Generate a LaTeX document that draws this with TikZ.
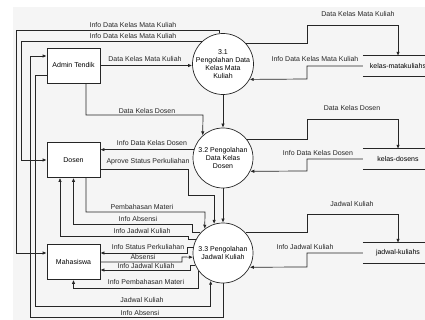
\documentclass[tikz,border=0pt]{standalone}
\usepackage{fontspec}
\setmainfont{Liberation Sans}
\usetikzlibrary{arrows.meta,calc}
\tikzset{
	entity/.style={draw=black!85, fill=white, line width=0.7pt, minimum width=53pt, minimum height=35pt, inner sep=0pt},
	process/.style={circle, draw=black!85, fill=white, line width=0.7pt, minimum size=60pt, inner sep=0pt, align=center},
	store/.style={minimum width=70pt, minimum height=20pt, inner sep=0pt},
	storeline/.style={draw=black!85, line width=0.7pt},
	flow/.style={draw=black!85, line width=0.7pt, -{Latex[length=4pt,width=3.4pt]}},
	lbl/.style={inner sep=0pt, text=black!85},
}

\begin{document}
\begin{tikzpicture}[x=1pt, y=-1pt, font=\fontsize{7}{7.8}\selectfont]
		%%%%% START %%%%%
		\useasboundingbox (0,0) rectangle (425,320);
		\fill[white] (0,0) rectangle (425,320);
		\fill[black!4] (13,7) rectangle (425,320);
		
		% external entities
		\node[entity] (adm) at (73.5,65.5) {Admin Tendik};
		\node[entity] (dsn) at (73.5,160) {Dosen};
		\node[entity] (mhs) at (73.5,262) {Mahasiswa};
		
		% processes
		\node[process] (p31) at (223,64) {3.1\\Pengolahan Data\\Kelas Mata\\Kuliah};
		\node[process] (p32) at (223,158) {3.2 Pengolahan\\Data Kelas\\Dosen};
		\node[process] (p33) at (223,253) {3.3 Pengolahan\\Jadwal Kuliah};
		
		% data stores
		\node[store] (km) at (398,66) {kelas-matakuliahs};
		\node[store] (kd) at (398,159) {kelas-dosens};
		\node[store] (jk) at (398,253) {jadwal-kuliahs};
		\foreach \s in {km,kd,jk}
			\draw[storeline] (\s.north west) -- (\s.north east) (\s.south west) -- (\s.south east);
		
		% 3.1
		\draw[flow] (adm.east) -- (adm.east -| p31.west);
		\node[lbl] (l1) at (145,59) {Data Kelas Mata Kuliah};
		\draw[flow] (p31.96) -- ++(0,-3) -| ($(mhs.west)+(-30,-9)$) -- ($(mhs.west)+(0,-9)$);
		\node[lbl] (l2) at (133,25) {Info Data Kelas Mata Kuliah};
		\draw[flow] (p31.133) -| ($(dsn.west)+(-25,0)$) -- (dsn.west);
		\node[lbl] (l3) at (133,36) {Info Data Kelas Mata Kuliah};
		\draw[flow] (p31.42) -| (307,25) -| (km.north);
		\node[lbl] (l4) at (358,14) {Data Kelas Mata Kuliah};
		\draw[flow] (km.west) -| (307,79) -- (p31.-30);
		\node[lbl] (l5) at (315,59) {Info Data Kelas Mata Kuliah};
		\draw[flow] (p31.south) -- (p32.north);
		
		% 3.2
		\draw[flow] ($(adm.south)+(12.5,0)$) |- (203,115) -- (p32.132);
		\node[lbl] (l6) at (147,111) {Data Kelas Dosen};
		\draw[flow] (p32.164.5) -- (p32.164.5 -| dsn.east);
		\node[lbl] (l7) at (152,143) {Info Data Kelas Dosen};
		\draw[flow] ($(dsn.east)+(0,9)$) -| (188,195) -| (p33.107.5);
		\node[lbl] (l8) at (148,162) {Aprove Status Perkuliahan};
		\draw[flow] (p32.39) -| (307,119) -| (kd.north);
		\node[lbl] (l9) at (352,108) {Data Kelas Dosen};
		\draw[flow] (kd.west) -| (307,171) -- (p32.-26);
		\node[lbl] (l10) at (318,153) {Info Data Kelas Dosen};
		\draw[flow] (p32.south) -- (p33.north);
		
		% 3.3
		\draw[flow] ($(dsn.south)+(12.5,0)$) |- (205,212) -- (p33.127);
		\node[lbl] (l11) at (142,207) {Pembahasan Materi};
		\draw[flow] (p33.138) -| (192,224) -| (dsn.south);
		\node[lbl] (l12) at (138,218.5) {Info Absensi};
		\draw[flow] (p33.154) -| (188,236) -| ($(dsn.south)+(-13.5,0)$);
		\node[lbl] (l13) at (142,231) {Info Jadwal Kuliah};
		\draw[flow] (p33.170) -| (187,253) -- ($(mhs.east)+(0,-9)$);
		\node[lbl] (l14) at (148,247) {Info Status Perkuliahan};
		\draw[flow] (mhs.east) -| (182,257) -- (p33.188);
		\node[lbl] (l15) at (143,257) {Absensi};
		\draw[flow] (p33.203.6) -| (190,270) -- ($(mhs.east)+(0,8)$);
		\node[lbl] (l16) at (146,266) {Info Jadwal Kuliah};
		\draw[flow] (p33.217) |- ($(mhs.south)+(0,8)$) -- (mhs.south);
		\node[lbl] (l17) at (146,282) {Info Pembahasan Materi};
		\draw[flow] ($(adm.west)+(0,9.5)$) -| (35,306) -| (p33.246.4);
		\node[lbl] (l18) at (142,299.5) {Jadwal Kuliah};
		\draw[flow] (p33.south) |- (30,317) |- ($(adm.west)+(0,-9.5)$);
		\node[lbl] (l19) at (140,312.5) {Info Absensi};
		\draw[flow] (p33.42) -| (307,214) -| (jk.north);
		\node[lbl] (l20) at (352,204) {Jadwal Kuliah};
		\draw[flow] (jk.west) -| (307,267) -- (p33.-28);
		\node[lbl] (l21) at (305,247) {Info Jadwal Kuliah};
		
		%%%%% END %%%%%
\end{tikzpicture}
\end{document}
